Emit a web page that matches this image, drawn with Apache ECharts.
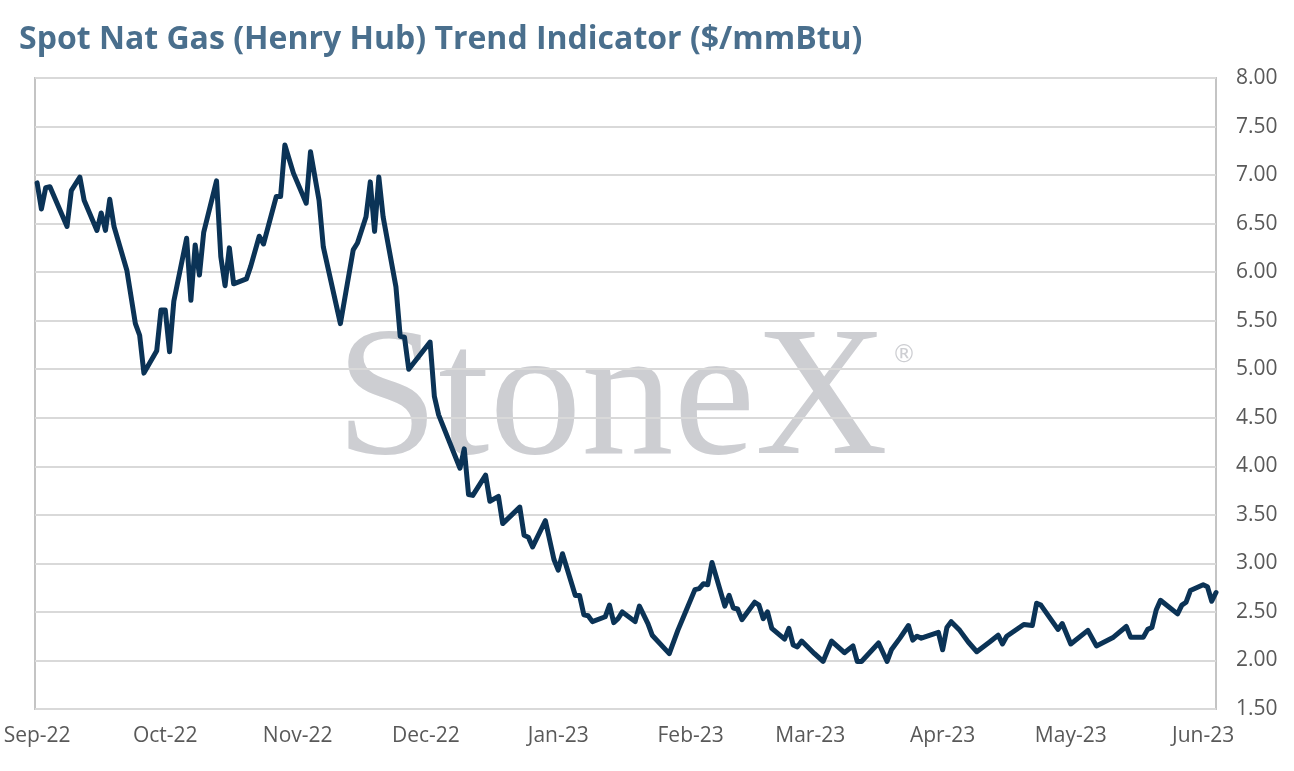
<!DOCTYPE html>
<html>
<head>
<meta charset="utf-8">
<script src="https://cdn.jsdelivr.net/npm/echarts@6/dist/echarts.min.js"></script>
<style>
  html, body { margin: 0; padding: 0; background: #fff; }
  #chart { width: 1294px; height: 771px; }
</style>
</head>
<body>
<div id="chart"></div>
<script>
// 图表数据
const dates = [
    '2022-09-01', '2022-09-02', '2022-09-03', '2022-09-04', '2022-09-08', '2022-09-09', '2022-09-11', '2022-09-12',
    '2022-09-15', '2022-09-16', '2022-09-17', '2022-09-18', '2022-09-19', '2022-09-22', '2022-09-24', '2022-09-25',
    '2022-09-26', '2022-09-29', '2022-09-30', '2022-10-01', '2022-10-02', '2022-10-03', '2022-10-06', '2022-10-07',
    '2022-10-08', '2022-10-09', '2022-10-10', '2022-10-13', '2022-10-14', '2022-10-15', '2022-10-16', '2022-10-17',
    '2022-10-20', '2022-10-21', '2022-10-23', '2022-10-24', '2022-10-27', '2022-10-28', '2022-10-29', '2022-10-31',
    '2022-11-03', '2022-11-04', '2022-11-06', '2022-11-07', '2022-11-11', '2022-11-14', '2022-11-15', '2022-11-17',
    '2022-11-18', '2022-11-19', '2022-11-20', '2022-11-21', '2022-11-24', '2022-11-25', '2022-11-26', '2022-11-27',
    '2022-12-02', '2022-12-03', '2022-12-04', '2022-12-09', '2022-12-10', '2022-12-11', '2022-12-12', '2022-12-15',
    '2022-12-16', '2022-12-18', '2022-12-19', '2022-12-23', '2022-12-24', '2022-12-25', '2022-12-26', '2022-12-29',
    '2022-12-31', '2023-01-01', '2023-01-02', '2023-01-05', '2023-01-06', '2023-01-07', '2023-01-08', '2023-01-09',
    '2023-01-12', '2023-01-13', '2023-01-14', '2023-01-15', '2023-01-16', '2023-01-19', '2023-01-20', '2023-01-22',
    '2023-01-23', '2023-01-27', '2023-01-29', '2023-01-31', '2023-02-02', '2023-02-03', '2023-02-04', '2023-02-05',
    '2023-02-06', '2023-02-09', '2023-02-10', '2023-02-11', '2023-02-12', '2023-02-13', '2023-02-16', '2023-02-17',
    '2023-02-18', '2023-02-19', '2023-02-20', '2023-02-23', '2023-02-24', '2023-02-25', '2023-02-26', '2023-02-27',
    '2023-03-02', '2023-03-04', '2023-03-06', '2023-03-09', '2023-03-11', '2023-03-12', '2023-03-13', '2023-03-17',
    '2023-03-19', '2023-03-20', '2023-03-22', '2023-03-24', '2023-03-25', '2023-03-26', '2023-03-27', '2023-03-31',
    '2023-04-01', '2023-04-02', '2023-04-03', '2023-04-05', '2023-04-07', '2023-04-09', '2023-04-12', '2023-04-14',
    '2023-04-15', '2023-04-16', '2023-04-20', '2023-04-22', '2023-04-23', '2023-04-24', '2023-04-28', '2023-04-29',
    '2023-05-01', '2023-05-05', '2023-05-07', '2023-05-11', '2023-05-14', '2023-05-15', '2023-05-18', '2023-05-19',
    '2023-05-20', '2023-05-21', '2023-05-22', '2023-05-26', '2023-05-27', '2023-05-28', '2023-05-29', '2023-06-01',
    '2023-06-02', '2023-06-03', '2023-06-04'
];

const prices = [
    6.92, 6.65, 6.87, 6.88, 6.47, 6.84, 6.98, 6.74,
    6.43, 6.61, 6.43, 6.75, 6.47, 6.02, 5.47, 5.35,
    4.96, 5.19, 5.61, 5.61, 5.18, 5.70, 6.35, 5.71,
    6.28, 5.97, 6.41, 6.94, 6.16, 5.86, 6.25, 5.88,
    5.93, 6.06, 6.37, 6.29, 6.78, 6.78, 7.31, 7.02,
    6.71, 7.24, 6.74, 6.26, 5.47, 6.23, 6.30, 6.57,
    6.93, 6.42, 6.98, 6.57, 5.85, 5.34, 5.33, 5.00,
    5.28, 4.72, 4.53, 3.98, 4.18, 3.71, 3.70, 3.91,
    3.64, 3.69, 3.41, 3.58, 3.29, 3.27, 3.17, 3.44,
    3.04, 2.93, 3.10, 2.67, 2.67, 2.47, 2.46, 2.40,
    2.45, 2.57, 2.39, 2.43, 2.50, 2.40, 2.56, 2.38,
    2.26, 2.07, 2.31, 2.52, 2.73, 2.74, 2.79, 2.78,
    3.01, 2.56, 2.67, 2.54, 2.53, 2.42, 2.60, 2.57,
    2.43, 2.50, 2.33, 2.22, 2.33, 2.16, 2.14, 2.20,
    2.07, 1.99, 2.20, 2.08, 2.15, 1.99, 1.99, 2.18,
    1.99, 2.11, 2.23, 2.36, 2.21, 2.25, 2.23, 2.29,
    2.11, 2.34, 2.40, 2.31, 2.19, 2.09, 2.19, 2.26,
    2.17, 2.25, 2.37, 2.36, 2.59, 2.57, 2.32, 2.38,
    2.17, 2.31, 2.15, 2.24, 2.35, 2.24, 2.24, 2.32,
    2.34, 2.52, 2.62, 2.48, 2.57, 2.60, 2.72, 2.78,
    2.76, 2.61, 2.70
];

// 横轴月份标签
const monthTicks = [
    '2022-09-01', '2022-10-01', '2022-11-01', '2022-12-01', '2023-01-01',
    '2023-02-01', '2023-03-01', '2023-04-01', '2023-05-01', '2023-06-01'
];
const monthLabels = [
    'Sep-22', 'Oct-22', 'Nov-22', 'Dec-22', 'Jan-23',
    'Feb-23', 'Mar-23', 'Apr-23', 'May-23', 'Jun-23'
];

const titleText = 'Spot Nat Gas (Henry Hub) Trend Indicator ($/mmBtu)';

// 日期字符串 -> 距 2022-09-01 的天数
const DAY = 86400000;
const START = Date.UTC(2022, 8, 1);
function toDay(s) {
    const p = s.split('-').map(Number);
    return Math.round((Date.UTC(p[0], p[1] - 1, p[2]) - START) / DAY);
}

const tickDays = monthTicks.map(toDay);

const chart = echarts.init(document.getElementById('chart'));

const option = {
    backgroundColor: '#ffffff',
    animation: false,
    title: {
        text: titleText,
        left: 14,
        top: 19,
        textStyle: {
            color: '#4a6f8d',
            fontFamily: 'Open Sans',
            fontWeight: 'bold',
            fontSize: 32
        }
    },
    graphic: [
        {
            type: 'text',
            z: -10,
            silent: true,
            style: {
                text: 'StoneX',
                x: 336,
                y: 405,
                fill: '#cdced2',
                font: '184px "Liberation Serif"',
                textVerticalAlign: 'middle'
            }
        },
        {
            type: 'text',
            z: -10,
            silent: true,
            style: {
                text: '®',
                x: 892,
                y: 356,
                fill: '#cdced2',
                font: '24px "DejaVu Sans"',
                textVerticalAlign: 'middle'
            }
        }
    ],
    grid: {
        left: 35,
        right: 78,
        top: 78,
        bottom: 62,
        show: true,
        borderColor: '#c4c4c4',
        borderWidth: 2,
        backgroundColor: 'transparent'
    },
    xAxis: {
        type: 'value',
        min: -0.5,
        max: 276,
        axisLine: { show: false },
        axisTick: { show: false },
        splitLine: { show: false },
        axisLabel: {
            customValues: tickDays,
            margin: 17,
            color: '#595959',
            fontFamily: 'Open Sans',
            fontSize: 21,
            formatter: (val) => {
                const i = tickDays.indexOf(Math.round(val));
                return i >= 0 ? monthLabels[i] : '';
            }
        }
    },
    yAxis: {
        type: 'value',
        position: 'right',
        min: 1.5,
        max: 8,
        interval: 0.5,
        axisLine: { show: false },
        axisTick: { show: false },
        splitLine: { lineStyle: { color: '#d9d9d9', width: 2 } },
        axisLabel: {
            margin: 20,
            color: '#595959',
            fontFamily: 'Open Sans',
            fontSize: 21,
            formatter: (v) => v.toFixed(2)
        }
    },
    series: [{
        type: 'line',
        data: dates.map((d, i) => [toDay(d), prices[i]]),
        showSymbol: false,
        symbol: 'none',
        lineStyle: { color: '#0b3356', width: 5, join: 'round', cap: 'round' },
        z: 5
    }]
};

chart.setOption(option);
</script>
</body>
</html>
